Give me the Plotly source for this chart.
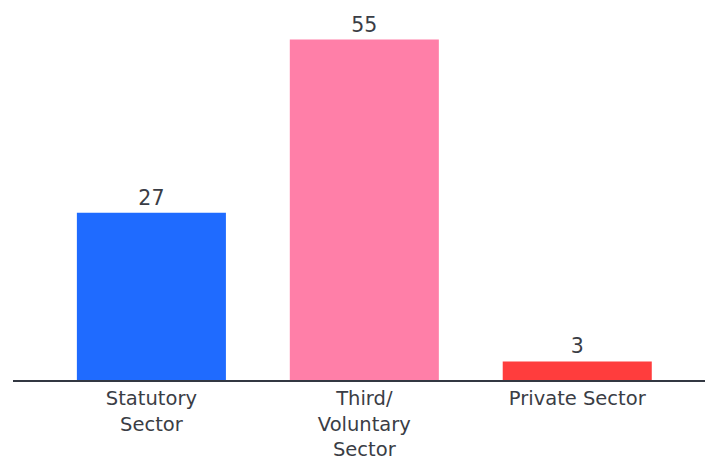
import plotly.graph_objects as go

# Sector breakdown
categories = ["Statutory<br>Sector", "Third/<br>Voluntary<br>Sector", "Private Sector"]
values = [27, 55, 3]
colors = ["#1f6bff", "#ff7fa8", "#ff3d3d"]

text_color = "#3a3d45"
font_family = "DejaVu Sans, sans-serif"

fig = go.Figure(
    go.Bar(
        x=categories,
        y=values,
        marker=dict(color=colors, line=dict(width=0)),
        text=[str(v) for v in values],
        textposition="outside",
        textfont=dict(size=20.5, color=text_color, family=font_family),
        cliponaxis=False,
    )
)

fig.update_layout(
    width=705,
    height=462,
    margin=dict(l=13, r=0, t=20, b=82),
    paper_bgcolor="white",
    plot_bgcolor="white",
    bargap=0.30,
    showlegend=False,
    font=dict(family=font_family, color=text_color, size=20),
)

fig.update_xaxes(
    range=[-0.65, 2.6],
    automargin=False,
    showline=True,
    linecolor="#333842",
    linewidth=2,
    ticks="",
    showgrid=False,
    tickfont=dict(size=19.5, color=text_color, family=font_family),
)
fig.update_yaxes(
    range=[0, 58.15],
    visible=False,
    showgrid=False,
    zeroline=False,
)

fig.write_html("out.html")
